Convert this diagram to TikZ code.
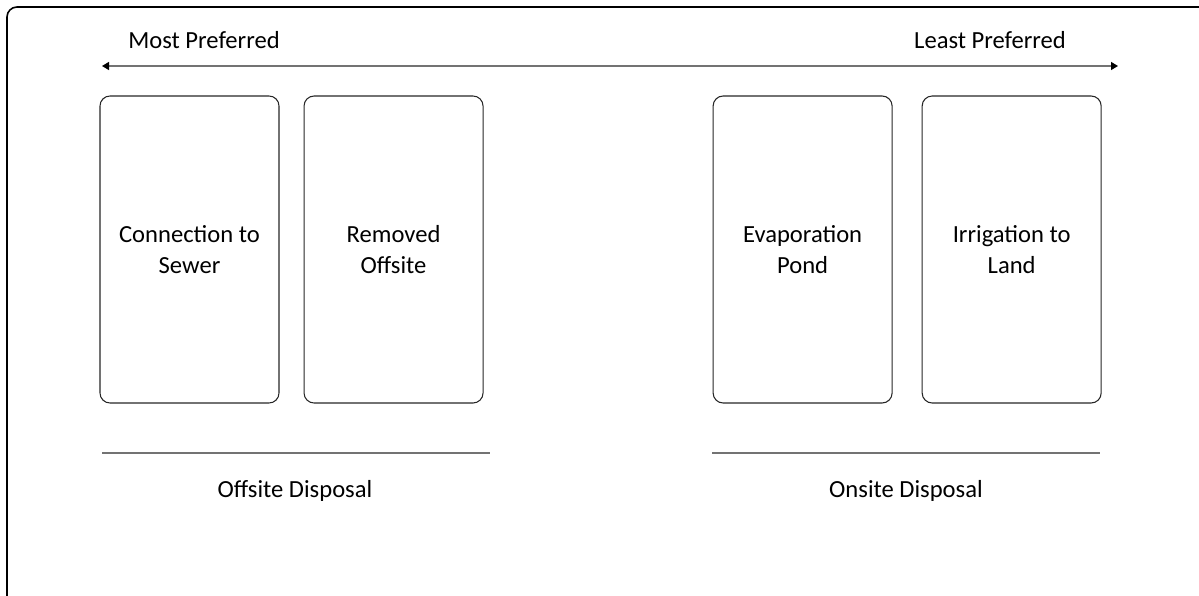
\documentclass[tikz,border=0pt]{standalone}
\usepackage{fontspec}
\setmainfont{Carlito}
\usetikzlibrary{arrows.meta, positioning}

\begin{document}
\begin{tikzpicture}[node distance=0.5cm,
    box/.style={rectangle, draw=black!85, line width=0.6pt, rounded corners=0.2cm, minimum width=3.58cm, minimum height=6.14cm, align=center, font=\fontsize{14}{18}\selectfont},
    lbl/.style={font=\fontsize{14}{18}\selectfont},
    rule/.style={draw=black!55, line width=0.7pt}]
\useasboundingbox (0,0) rectangle (23.98,-11.92);
\draw[line width=0.9pt, rounded corners=0.2cm] (0.14,-11.92) -- (0.14,-0.14) -- (23.98,-0.14);
% preference scale
\coordinate (most) at (2.04,-1.32);
\coordinate (least) at (22.36,-1.32);
\node[lbl] (mostlbl) at (4.08,-0.8) {Most Preferred};
\node[lbl] (leastlbl) at (19.8,-0.8) {Least Preferred};
\draw[rule, {Triangle[length=1.4mm, width=1.6mm, black]}-{Triangle[length=1.4mm, width=1.6mm, black]}] (most) -- (least);
% options
\node[box] (sewer) at (3.79,-4.99) {Connection to\\Sewer};
\node[box, right=0.48cm of sewer] (removed) {Removed\\Offsite};
\node[box, right=4.58cm of removed] (pond) {Evaporation\\Pond};
\node[box, right=0.58cm of pond] (irrigation) {Irrigation to\\Land};
% groups
\coordinate (offl) at (2.04,-9.06);
\coordinate (offr) at (9.8,-9.06);
\coordinate (onl) at (14.24,-9.06);
\coordinate (onr) at (22.0,-9.06);
\draw[rule] (offl) -- (offr);
\draw[rule] (onl) -- (onr);
\node[lbl] (offsite) at (5.9,-9.82) {Offsite Disposal};
\node[lbl] (onsite) at (18.12,-9.82) {Onsite Disposal};
\end{tikzpicture}
\end{document}
